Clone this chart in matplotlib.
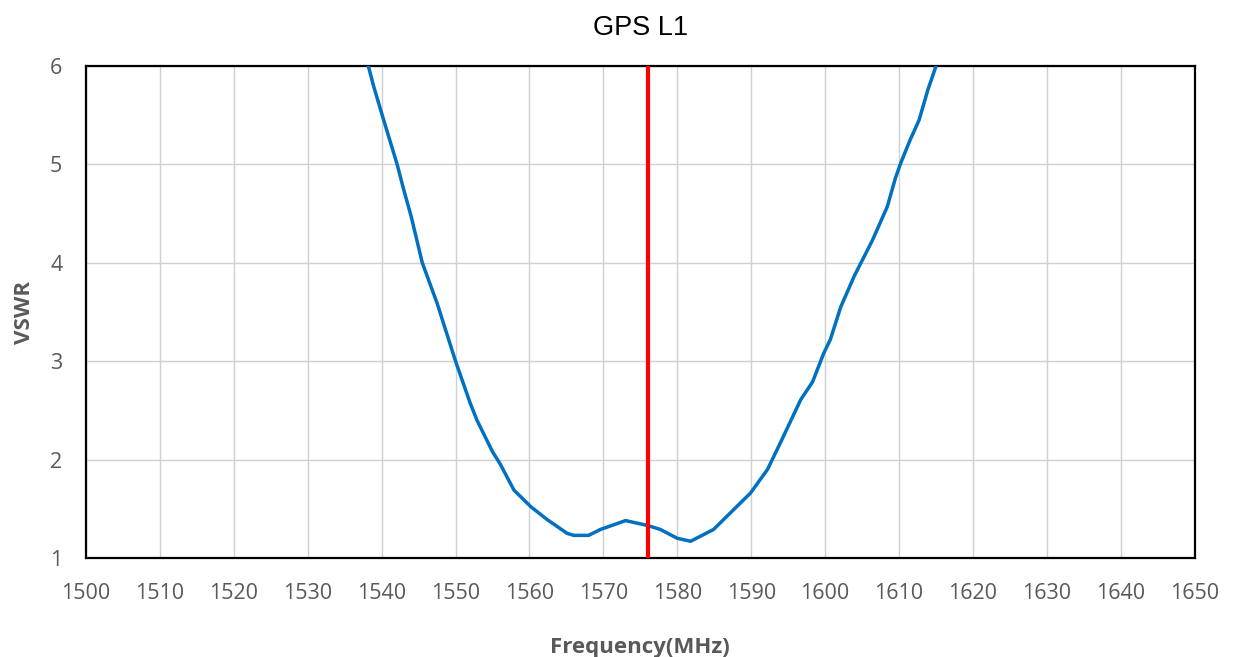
import matplotlib
matplotlib.use('Agg')
from matplotlib import pyplot as plt

# 读取图上的曲线数据
freq = [1538.2, 1538.9, 1540.0, 1542.1, 1543.0, 1544.0, 1545.5, 1547.5, 1550.0,
        1552.0, 1552.9, 1555.0, 1556.0, 1557.9, 1560.2, 1562.4, 1565.1, 1566.0,
        1568.0, 1569.6, 1573.0, 1576.0, 1577.7, 1580.0, 1581.8, 1584.9, 1587.6,
        1589.9, 1592.2, 1594.0, 1596.7, 1598.3, 1599.8, 1600.7, 1602.1, 1603.9,
        1606.4, 1608.4, 1609.5, 1610.2, 1611.5, 1612.7, 1613.9, 1615.0]
vswr = [6.0, 5.80, 5.52, 5.0, 4.74, 4.47, 4.0, 3.59, 3.0,
        2.57, 2.40, 2.08, 1.96, 1.69, 1.52, 1.39, 1.25, 1.23,
        1.23, 1.29, 1.38, 1.33, 1.29, 1.20, 1.17, 1.29, 1.49,
        1.66, 1.90, 2.18, 2.61, 2.79, 3.08, 3.22, 3.55, 3.86,
        4.23, 4.57, 4.86, 5.01, 5.25, 5.45, 5.76, 6.0]
marker_freq = 1576
x_ticks = list(range(1500, 1651, 10))
y_ticks = [1, 2, 3, 4, 5, 6]

fig = plt.figure(figsize=(12.33, 6.57), dpi=100)
ax = fig.add_axes([0.0697, 0.1507, 0.8993, 0.7488])

ax.plot(freq, vswr, color='#0070C0', linewidth=2.5, zorder=3,
        solid_joinstyle='round')
ax.axvline(marker_freq, color='#FF0000', linewidth=3, zorder=4)

ax.set_xlim(1500, 1650)
ax.set_ylim(1, 6)
ax.set_xticks(x_ticks)
ax.set_yticks(y_ticks)
ax.grid(True, color='#D0D0D0', linewidth=1)
ax.set_axisbelow(True)
for s in ax.spines.values():
    s.set_color('black')
    s.set_linewidth(1.6)

ax.tick_params(axis='both', length=0, labelsize=15.5, labelcolor='#595959')
ax.tick_params(axis='x', pad=18)
ax.tick_params(axis='y', pad=17)
for lab in ax.get_xticklabels() + ax.get_yticklabels():
    lab.set_family('Open Sans')

ax.set_title('GPS L1', fontsize=19.5, family='Liberation Sans', pad=22)
ax.set_xlabel('Frequency(MHz)', fontsize=16, fontweight='bold', color='#595959',
              family='Open Sans', labelpad=24)
ax.set_ylabel('VSWR', fontsize=16, fontweight='bold', color='#595959',
              family='Open Sans', labelpad=11)

fig.savefig('out.png', dpi=100)
